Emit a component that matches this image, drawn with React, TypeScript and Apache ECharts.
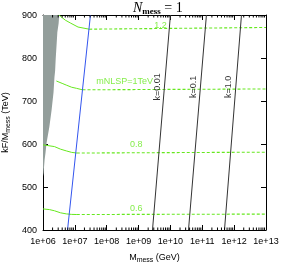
import React, { useEffect, useRef } from 'react';
import * as echarts from 'echarts';

// axis
const xExponents = [6, 7, 8, 9, 10, 11, 12, 13];
const yTicks = [400, 500, 600, 700, 800, 900];

// excluded (gray) region boundary: [log10(Mmess), kF/Mmess]
const grayBoundary: [number, number][] = [
  [6.0, 900], [6.51, 900], [6.49, 880], [6.45, 860], [6.43, 835], [6.4, 800], [6.38, 770],
  [6.36, 756], [6.33, 720], [6.27, 679], [6.2, 640], [6.11, 602], [6.08, 580],
  [6.05, 563], [6.03, 545], [6.02, 533], [6.0, 525],
];

// mNLSP contours (TeV): curved part (solid) and flat part (dashed)
const nlsp06Curve: [number, number][] = [[6.0, 449], [6.2, 447.5], [6.36, 444.7], [6.55, 440], [6.73, 437.5], [6.9, 436.3], [7.06, 436]];
const nlsp06Flat: [number, number][] = [[7.06, 436], [13, 437]];
const nlsp08Curve: [number, number][] = [[6.0, 598], [6.36, 594], [6.55, 588], [6.73, 584], [6.9, 580.5], [7.06, 579]];
const nlsp08Flat: [number, number][] = [[7.06, 579], [13, 581]];
const nlsp10Curve: [number, number][] = [[6.42, 746.5], [6.6, 741], [6.73, 737], [6.9, 732], [7.05, 729.5], [7.24, 726]];
const nlsp10Flat: [number, number][] = [[7.24, 726], [13, 728]];
const nlsp12Curve: [number, number][] = [[6.5, 900], [6.7, 888], [6.87, 881], [7.1, 872], [7.45, 867]];
const nlsp12Flat: [number, number][] = [[7.45, 867], [13, 871]];

// blue boundary line
const blueLine: [number, number][] = [[6.77, 400], [7.49, 900]];

// k contours
const k001: [number, number][] = [[9.437, 400], [10.0, 900]];
const k01: [number, number][] = [[10.567, 400], [11.13, 900]];
const k1: [number, number][] = [[11.697, 400], [12.23, 900]];

// labels: [log10 x, y, text]
const greenLabels: [number, number, string][] = [
  [9.69, 877, '1.2'],
  [8.56, 746, 'mNLSP=1TeV'],
  [8.93, 600, '0.8'],
  [8.93, 451, '0.6'],
];
const kLabels: [number, number, string][] = [
  [9.594, 733, 'k=0.01'],
  [10.724, 733, 'k=0.1'],
  [11.82, 733, 'k=1.0'],
];

const toXY = (pts: [number, number][]) => pts.map(([e, y]) => [Math.pow(10, e), y]);

const GREEN = '#66e81e';
const FONT = '"Liberation Sans", Arial, sans-serif';
const SERIF = '"Liberation Serif", "DejaVu Serif", serif';

export default function App() {
  const ref = useRef<HTMLDivElement>(null);
  useEffect(() => {
    if (!ref.current) return;
    const chart = echarts.init(ref.current, undefined, { renderer: 'svg' });

    const minorTicks: number[][] = [];
    for (let d = 6; d < 13; d++) {
      for (let m = 2; m <= 9; m++) minorTicks.push([m * Math.pow(10, d), 400]);
    }

    const grayPts = toXY(grayBoundary);

    const solid = (data: number[][], color: string) => ({
      type: 'line', data, showSymbol: false, symbol: 'none', silent: true,
      lineStyle: { color, width: 1 }, z: 3,
    });
    const dashed = (data: number[][]) => ({
      type: 'line', data, showSymbol: false, symbol: 'none', silent: true,
      lineStyle: { color: GREEN, width: 1.1, type: [3, 2] }, z: 3,
    });

    const option: any = {
      animation: false,
      title: {
        text: '{n|N}{s|mess}{e| = 1}',
        left: 133, top: 0, padding: 0,
        textStyle: {
          rich: {
            n: { fontFamily: SERIF, fontStyle: 'italic', fontWeight: 'normal', fontSize: 14, color: '#000' },
            s: { fontFamily: SERIF, fontWeight: 'bold', fontSize: 9, color: '#000', padding: [6, 0, 0, 0] },
            e: { fontFamily: SERIF, fontWeight: 'normal', fontSize: 14, color: '#000' },
          },
        },
      },
      grid: { left: 43, right: 15, top: 15, bottom: 33, containLabel: false, outerBoundsMode: 'none' },
      xAxis: [
        {
          type: 'log', logBase: 10, min: 1e6, max: 1e13, position: 'bottom',
          axisLine: { show: true, onZero: false, lineStyle: { color: '#000', width: 1 } },
          axisTick: { show: true, inside: true, length: 5, lineStyle: { color: '#000' } },
          axisLabel: {
            fontSize: 9, color: '#000', fontFamily: FONT, margin: 6,
            formatter: (v: number) => {
              const e = Math.round(Math.log10(v));
              return '1e+' + (e < 10 ? '0' + e : '' + e);
            },
          },
          splitLine: { show: false },
          name: 'M{sub|mess} (GeV)', nameLocation: 'middle', nameGap: 21,
          nameTextStyle: {
            fontSize: 9, color: '#000', fontFamily: FONT,
            rich: { sub: { fontSize: 7, fontFamily: FONT, color: '#000', padding: [5, 0, 0, 0] } },
          },
        },
        {
          type: 'log', logBase: 10, min: 1e6, max: 1e13, position: 'top',
          axisLine: { show: true, onZero: false, lineStyle: { color: '#000', width: 1 } },
          axisTick: { show: true, inside: true, length: 5, lineStyle: { color: '#000' } },
          axisLabel: { show: false },
          splitLine: { show: false },
        },
      ],
      yAxis: [
        {
          type: 'value', min: 400, max: 900, interval: 100, position: 'left',
          axisLine: { show: true, onZero: false, lineStyle: { color: '#000', width: 1 } },
          axisTick: { show: true, inside: true, length: 5, lineStyle: { color: '#000' } },
          axisLabel: { fontSize: 9, color: '#000', fontFamily: FONT, margin: 6, formatter: (v: number) => yTicks.includes(v) ? String(v) : '' },
          splitLine: { show: false },
          name: 'kF/M{sub|mess} (TeV)', nameLocation: 'middle', nameGap: 31,
          nameTextStyle: {
            fontSize: 9, color: '#000', fontFamily: FONT,
            rich: { sub: { fontSize: 7, fontFamily: FONT, color: '#000', padding: [5, 0, 0, 0] } },
          },
        },
        {
          type: 'value', min: 400, max: 900, interval: 100, position: 'right',
          axisLine: { show: true, onZero: false, lineStyle: { color: '#000', width: 1 } },
          axisTick: { show: true, inside: true, length: 5, lineStyle: { color: '#000' } },
          axisLabel: { show: false },
          splitLine: { show: false },
        },
      ],
      series: [
        {
          type: 'custom', silent: true, clip: true, z: 1,
          data: [[1e6, 400]],
          renderItem: (_p: any, api: any) => ({
            type: 'polygon',
            shape: { points: grayPts.map((p) => api.coord(p)) },
            style: { fill: '#939e9b', stroke: 'none' },
          }),
        },
        {
          type: 'custom', silent: true, z: 5,
          data: minorTicks,
          renderItem: (_p: any, api: any) => {
            const x = api.value(0);
            const b = api.coord([x, 400]);
            const t = api.coord([x, 900]);
            return {
              type: 'group',
              children: [
                { type: 'line', shape: { x1: b[0], y1: b[1], x2: b[0], y2: b[1] - 2.5 }, style: { stroke: '#000', lineWidth: 1 } },
                { type: 'line', shape: { x1: t[0], y1: t[1], x2: t[0], y2: t[1] + 2.5 }, style: { stroke: '#000', lineWidth: 1 } },
              ],
            };
          },
        },
        solid(toXY(nlsp06Curve), GREEN),
        dashed(toXY(nlsp06Flat)),
        solid(toXY(nlsp08Curve), GREEN),
        dashed(toXY(nlsp08Flat)),
        solid(toXY(nlsp10Curve), GREEN),
        dashed(toXY(nlsp10Flat)),
        solid(toXY(nlsp12Curve), GREEN),
        dashed(toXY(nlsp12Flat)),
        solid(toXY(blueLine), '#3355ee'),
        solid(toXY(k001), '#333'),
        solid(toXY(k01), '#333'),
        solid(toXY(k1), '#333'),
        {
          type: 'scatter', symbolSize: 0, silent: true, z: 6,
          data: greenLabels.map(([e, y, t]) => ({ value: [Math.pow(10, e), y], name: t })),
          label: { show: true, position: 'inside', formatter: (p: any) => p.name, color: GREEN, fontSize: 9, fontFamily: FONT },
        },
        {
          type: 'scatter', symbolSize: 0, silent: true, z: 6,
          data: kLabels.map(([e, y, t]) => ({ value: [Math.pow(10, e), y], name: t })),
          label: { show: true, position: 'inside', rotate: 90, formatter: (p: any) => p.name, color: '#000', fontSize: 9, fontFamily: FONT },
        },
      ],
    };
    chart.setOption(option);
    return () => chart.dispose();
  }, []);
  return <div ref={ref} style={{ position: 'fixed', left: 0, top: 0, width: 281, height: 263 }} />;
}
